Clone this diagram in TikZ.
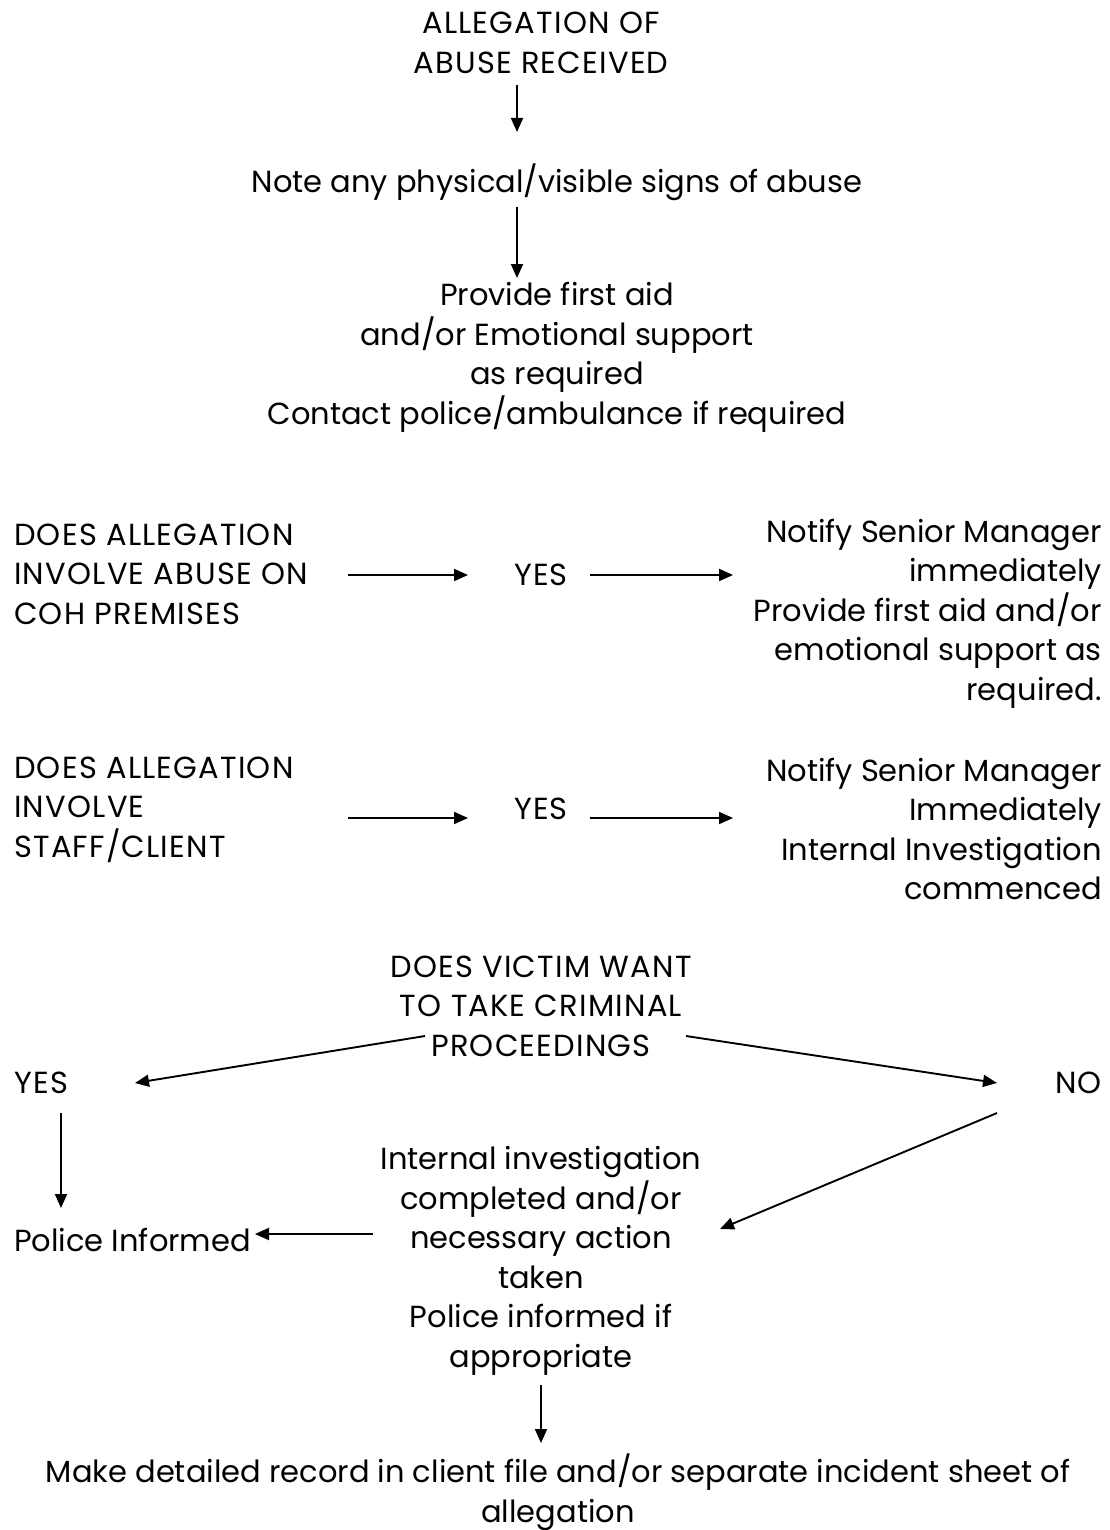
\documentclass[tikz,border=0pt]{standalone}
\usepackage{fontspec}
\setmainfont{Poppins}
\usetikzlibrary{arrows.meta,calc}
\begin{document}
\begin{tikzpicture}[x=1pt,y=-1pt,
  txt/.style={inner sep=0pt,font=\fontsize{30.5}{39.5}\selectfont},
  caps/.style={txt,font=\fontsize{30.5}{39.5}\selectfont\addfontfeature{LetterSpace=4}},
  arr/.style={line width=1.9pt,-{Triangle[length=14pt,width=12pt]}}]
\useasboundingbox[fill=white] (0,0) rectangle (1110,1530);
\node[caps,align=center] (alleg) at (541,43) {ALLEGATION OF\\ABUSE RECEIVED};
\node[txt] (note) at (557,182) {Note any physical/visible signs of abuse};
\node[txt,align=center] (aid) at (557,357.5) {Provide first aid\\and/or Emotional support\\as required\\Contact police/ambulance if required};
\node[caps,align=left,anchor=west] (q1) at (14,574) {DOES ALLEGATION\\INVOLVE ABUSE ON\\COH PREMISES};
\node[caps] (yes1) at (541,575) {YES};
\node[txt,align=right,anchor=east] (r1) at (1102,613.5) {Notify Senior Manager\\immediately\\Provide first aid and/or\\emotional support as\\required.};
\node[caps,align=left,anchor=west] (q2) at (14,809.5) {DOES ALLEGATION\\INVOLVE\\STAFF/CLIENT};
\node[caps] (yes2) at (541,809) {YES};
\node[txt,align=right,anchor=east] (r2) at (1102,829) {Notify Senior Manager\\Immediately\\Internal Investigation\\commenced};
\node[caps,align=center] (victim) at (541,1006) {DOES VICTIM WANT\\TO TAKE CRIMINAL\\PROCEEDINGS};
\node[caps,anchor=west] (yes3) at (14,1083) {YES};
\node[caps,anchor=east] (no) at (1102,1083) {NO};
\node[txt,anchor=west] (police) at (14,1240) {Police Informed};
\node[txt,align=center] (internal) at (541,1261) {Internal investigation\\completed and/or\\necessary action\\taken\\Police informed if\\appropriate};
\node[txt,align=center] (record) at (558,1492) {Make detailed record in client file and/or separate incident sheet of\\allegation};
\draw[arr] ($(alleg.center)+(-24,42)$) -- ($(alleg.center)+(-24,89)$);
\draw[arr] ($(note.center)+(-40,25)$) -- ($(aid.center)+(-40,-79.5)$);
\draw[arr] ($(q1.west)+(334,1)$) -- ($(yes1.center)+(-73,0)$);
\draw[arr] ($(yes1.center)+(49,0)$) -- ($(yes1.center)+(192,0)$);
\draw[arr] ($(q2.west)+(334,8.5)$) -- ($(yes2.center)+(-73,9)$);
\draw[arr] ($(yes2.center)+(49,9)$) -- ($(yes2.center)+(192,9)$);
\draw[arr] ($(victim.center)+(-116,30)$) -- ($(yes3.west)+(121,0)$);
\draw[arr] ($(victim.center)+(145,30)$) -- ($(no.east)+(-105,0)$);
\draw[arr] ($(yes3.west)+(47,30)$) -- ($(police.west)+(47,-32)$);
\draw[arr] ($(internal.center)+(-168,-27)$) -- ($(police.west)+(241,-6)$);
\draw[arr] ($(no.east)+(-105,30)$) -- ($(internal.center)+(179,-32)$);
\draw[arr] ($(internal.center)+(0,124)$) -- ($(record.center)+(-17,-49)$);
\end{tikzpicture}
\end{document}
